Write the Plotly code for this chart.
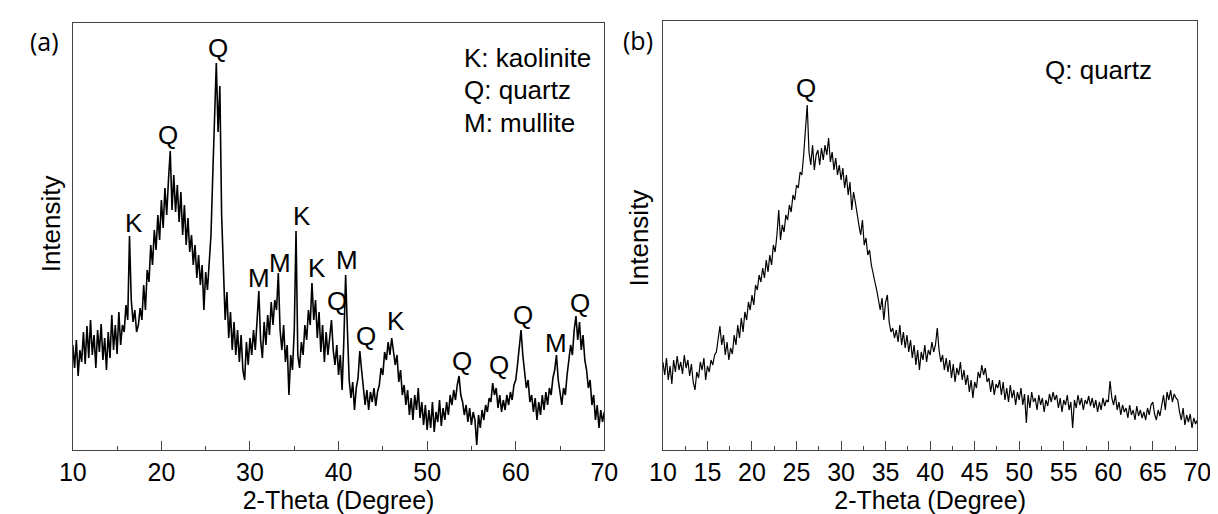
import plotly.graph_objects as go

# ---------------- data ----------------
two_theta_start = 10.0
two_theta_step = 0.2

# panel (a): intensity (arb. units) every 0.2 deg from 10 to 70
intensity_a = [
    105, 82, 110, 74, 100, 88, 118, 86, 124, 92,      # 10.0-11.8
    130, 95, 115, 82, 120, 98, 126, 90, 112, 80,      # 12.0-13.8
    118, 92, 135, 100, 125, 96, 138, 105, 125, 118,   # 14.0-15.8
    145, 130, 214, 150, 128, 140, 118, 125, 142, 130, # 16.0-17.8
    165, 140, 180, 168, 205, 185, 220, 200, 235, 210, # 18.0-19.8
    250, 222, 262, 235, 270, 299, 240, 275, 238, 265, # 20.0-21.8
    228, 258, 215, 245, 205, 232, 198, 215, 185, 205, # 22.0-23.8
    172, 195, 165, 185, 140, 178, 160, 190, 215, 275, # 24.0-25.8
    330, 387, 318, 364, 235, 178, 130, 158, 112, 138, # 26.0-27.8
    100, 128, 95, 120, 88, 115, 80, 70, 108, 85,      # 28.0-29.8
    112, 95, 120, 100, 130, 159, 110, 92, 128, 105,   # 30.0-31.8
    135, 115, 148, 125, 150, 140, 177, 120, 100, 125, # 32.0-33.8
    88, 105, 55, 95, 80, 120, 219, 95, 82, 108,       # 34.0-35.8
    95, 125, 110, 140, 125, 167, 130, 150, 112, 138,  # 36.0-37.8
    98, 125, 88, 118, 95, 110, 130, 100, 85, 105,     # 38.0-39.8
    75, 95, 60, 110, 175, 120, 70, 52, 68, 40,        # 40.0-41.8
    62, 72, 99, 80, 62, 45, 60, 40, 58, 48,           # 42.0-43.8
    62, 44, 58, 65, 82, 75, 98, 90, 108, 95,          # 44.0-45.8
    112, 100, 85, 95, 68, 80, 55, 65, 45, 60,         # 46.0-47.8
    35, 52, 30, 55, 40, 62, 32, 48, 25, 45,           # 48.0-49.8
    20, 40, 22, 48, 18, 38, 28, 50, 24, 42,           # 50.0-51.8
    30, 48, 35, 55, 45, 60, 50, 65, 74, 55,           # 52.0-53.8
    48, 35, 45, 28, 42, 25, 38, 30, 5, 35,            # 54.0-55.8
    22, 40, 30, 45, 38, 52, 48, 67, 55, 62,           # 56.0-57.8
    42, 55, 38, 50, 40, 55, 45, 58, 50, 65,           # 58.0-59.8
    70, 85, 100, 120, 95, 80, 62, 70, 48, 55,         # 60.0-61.8
    38, 52, 30, 48, 35, 55, 40, 58, 45, 62,           # 62.0-63.8
    55, 72, 80, 95, 70, 58, 45, 62, 55, 75,           # 64.0-65.8
    90, 105, 95, 120, 134, 110, 128, 100, 115, 90,    # 66.0-67.8
    80, 62, 70, 45, 55, 30, 45, 22, 40, 28,           # 68.0-69.8
    38,                                               # 70.0
]

# panel (b): intensity (arb. units) every 0.2 deg from 10 to 70
intensity_b = [
    88, 75, 92, 70, 84, 66, 90, 78, 94, 80,           # 10.0-11.8
    88, 76, 95, 82, 90, 74, 86, 68, 60, 78,           # 12.0-13.8
    72, 88, 80, 92, 70, 84, 78, 90, 85, 95,           # 14.0-15.8
    98, 110, 124, 105, 115, 95, 108, 90, 102, 96,     # 16.0-17.8
    115, 105, 125, 112, 132, 118, 138, 130, 148, 140, # 18.0-19.8
    155, 145, 165, 160, 175, 168, 182, 172, 190, 178, # 20.0-21.8
    195, 185, 205, 198, 215, 240, 210, 225, 218, 235, # 22.0-23.8
    230, 245, 238, 255, 250, 265, 262, 278, 275, 295, # 24.0-25.8
    318, 345, 298, 285, 305, 280, 295, 300, 285, 302, # 26.0-27.8
    290, 305, 295, 312, 288, 298, 280, 292, 275, 285, # 28.0-29.8
    270, 282, 262, 275, 255, 268, 240, 258, 248, 235, # 30.0-31.8
    225, 215, 230, 205, 212, 195, 200, 185, 175, 168, # 32.0-33.8
    160, 150, 140, 152, 130, 148, 155, 128, 118, 122, # 34.0-35.8
    112, 120, 108, 125, 105, 118, 102, 115, 98, 110,  # 36.0-37.8
    92, 105, 85, 100, 80, 98, 90, 105, 88, 100,       # 38.0-39.8
    95, 108, 98, 105, 122, 100, 88, 95, 80, 92,       # 40.0-41.8
    78, 90, 72, 86, 68, 82, 75, 88, 70, 80,           # 42.0-43.8
    65, 75, 58, 70, 52, 68, 62, 78, 72, 85,           # 44.0-45.8
    75, 82, 68, 72, 58, 70, 55, 66, 62, 70,           # 46.0-47.8
    55, 68, 50, 62, 48, 65, 52, 60, 45, 58,           # 48.0-49.8
    50, 62, 45, 56, 27, 55, 42, 58, 48, 52,           # 50.0-51.8
    40, 55, 45, 52, 38, 50, 44, 56, 48, 58,           # 52.0-53.8
    50, 55, 42, 52, 38, 50, 45, 55, 40, 48,           # 54.0-55.8
    22, 50, 42, 55, 45, 52, 40, 50, 46, 54,           # 56.0-57.8
    44, 52, 42, 50, 38, 48, 40, 52, 44, 50,           # 58.0-59.8
    48, 69, 52, 45, 55, 40, 48, 35, 45, 38,           # 60.0-61.8
    42, 32, 45, 35, 40, 30, 44, 34, 40, 32,           # 62.0-63.8
    38, 30, 42, 35, 45, 48, 36, 30, 40, 34,           # 64.0-65.8
    45, 55, 40, 58, 50, 60, 48, 56, 52, 50,           # 66.0-67.8
    38, 30, 42, 25, 35, 28, 36, 22, 32, 26,           # 68.0-69.8
    30,                                               # 70.0
]

theta_a = [round(two_theta_start + i * two_theta_step, 1) for i in range(len(intensity_a))]
theta_b = [round(two_theta_start + i * two_theta_step, 1) for i in range(len(intensity_b))]

# peak labels (phase letter, 2-theta, intensity at label centre)
peak_text_a = ["K", "Q", "Q", "M", "M", "K", "K", "Q", "M", "Q", "K", "Q", "Q", "Q", "M", "Q"]
peak_x_a = [16.9, 20.8, 26.4, 31.06, 33.4, 35.9, 37.6, 39.8, 41.0, 43.1, 46.5, 53.9, 58.1, 60.8, 64.5, 67.3]
peak_y_a = [227, 315, 402, 172, 187, 234, 182, 149, 190, 114, 129, 89, 85, 135, 107, 147]

peak_text_b = ["Q"]
peak_x_b = [26.1]
peak_y_b = [362]

legend_a = ["K: kaolinite", "Q: quartz", "M: mullite"]
legend_b = ["Q: quartz"]

ticks_a = [10, 20, 30, 40, 50, 60, 70]
ticks_b = [10, 15, 20, 25, 30, 35, 40, 45, 50, 55, 60, 65, 70]

# ---------------- figure ----------------
W, H = 1218, 514
FONT = "Liberation Sans, Arial, sans-serif"

def px_x(p):
    return p / W

def px_y(p):
    return 1 - p / H

fig = go.Figure()
fig.add_trace(go.Scatter(x=theta_a, y=intensity_a, mode="lines",
                         line=dict(color="black", width=1.6), xaxis="x", yaxis="y",
                         showlegend=False, hoverinfo="skip"))
fig.add_trace(go.Scatter(x=theta_b, y=intensity_b, mode="lines",
                         line=dict(color="black", width=1.2), xaxis="x2", yaxis="y2",
                         showlegend=False, hoverinfo="skip"))

axis_common = dict(showline=True, linecolor="#444", linewidth=1, mirror=True,
                   showgrid=False, zeroline=False)

xa = dict(axis_common, range=[10, 70], tickvals=ticks_a, ticks="inside", ticklen=9,
          tickcolor="#444", tickfont=dict(family=FONT, size=25, color="black"),
          minor=dict(dtick=5, ticks="inside", ticklen=4, tickcolor="#444"),
          title=dict(text="2-Theta (Degree)", font=dict(family=FONT, size=25, color="black"),
                     standoff=6))
xb = dict(axis_common, range=[10, 70], tickvals=ticks_b, ticks="inside", ticklen=9,
          tickcolor="#444", tickfont=dict(family=FONT, size=25, color="black"),
          minor=dict(dtick=2.5, ticks="inside", ticklen=4, tickcolor="#444"),
          title=dict(text="2-Theta (Degree)", font=dict(family=FONT, size=25, color="black"),
                     standoff=6))

fig.update_layout(
    width=W, height=H,
    margin=dict(l=0, r=0, t=0, b=0),
    paper_bgcolor="white", plot_bgcolor="white",
    xaxis=dict(xa, domain=[px_x(52), px_x(596)], anchor="y"),
    yaxis=dict(axis_common, range=[0, 427], showticklabels=False, ticks="",
               domain=[px_y(442), px_y(15)], anchor="x"),
    xaxis2=dict(xb, domain=[px_x(656), px_x(1203)], anchor="y2"),
    yaxis2=dict(axis_common, range=[0, 429], showticklabels=False, ticks="",
                domain=[px_y(442), px_y(13)], anchor="x2"),
)

LABEL_FONT = dict(family=FONT, size=26, color="black")
annotations = []
for t, x, y in zip(peak_text_a, peak_x_a, peak_y_a):
    annotations.append(dict(text=t, x=x, y=y, xref="x", yref="y", showarrow=False,
                            font=LABEL_FONT, xanchor="center", yanchor="middle"))
for t, x, y in zip(peak_text_b, peak_x_b, peak_y_b):
    annotations.append(dict(text=t, x=x, y=y, xref="x2", yref="y2", showarrow=False,
                            font=LABEL_FONT, xanchor="center", yanchor="middle"))

for i, t in enumerate(legend_a):
    annotations.append(dict(text=t, x=px_x(450), y=px_y(50 + 32.5 * i), xref="paper", yref="paper",
                            showarrow=False, xanchor="left", yanchor="middle", font=LABEL_FONT))
for t in legend_b:
    annotations.append(dict(text=t, x=px_x(1045), y=px_y(62), xref="paper", yref="paper",
                            showarrow=False, xanchor="left", yanchor="middle", font=LABEL_FONT))

# panel letters
annotations.append(dict(text="(a)", x=px_x(23), y=px_y(33), xref="paper", yref="paper",
                        showarrow=False, xanchor="center", yanchor="middle",
                        font=dict(family="Open Sans, sans-serif", size=25, color="black")))
annotations.append(dict(text="(b)", x=px_x(630), y=px_y(32), xref="paper", yref="paper",
                        showarrow=False, xanchor="center", yanchor="middle",
                        font=dict(family="Open Sans, sans-serif", size=25, color="black")))

# y-axis titles
annotations.append(dict(text="Intensity", x=px_x(30), y=px_y(216), xref="paper", yref="paper",
                        showarrow=False, textangle=-90, xanchor="center", yanchor="middle",
                        font=dict(family=FONT, size=26, color="black")))
annotations.append(dict(text="Intensity", x=px_x(632), y=px_y(230), xref="paper", yref="paper",
                        showarrow=False, textangle=-90, xanchor="center", yanchor="middle",
                        font=dict(family=FONT, size=26, color="black")))

fig.update_layout(annotations=annotations)
fig.write_html("out.html")
